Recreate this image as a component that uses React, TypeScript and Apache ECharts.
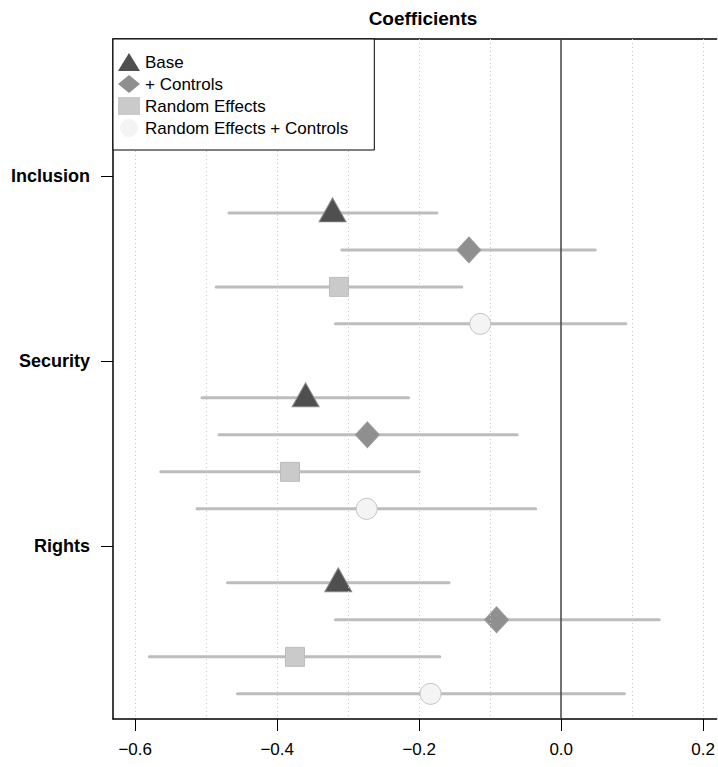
import React, { useEffect, useRef } from "react";
import * as echarts from "echarts";

const categories = ["Inclusion", "Security", "Rights"];
const models = ["Base", "+ Controls", "Random Effects", "Random Effects + Controls"];

const baseEst = [-0.322, -0.36, -0.314];
const baseLo = [-0.468, -0.506, -0.47];
const baseHi = [-0.175, -0.215, -0.158];

const ctrlEst = [-0.13, -0.273, -0.091];
const ctrlLo = [-0.309, -0.482, -0.318];
const ctrlHi = [0.048, -0.062, 0.138];

const reEst = [-0.313, -0.382, -0.375];
const reLo = [-0.486, -0.564, -0.58];
const reHi = [-0.14, -0.2, -0.171];

const recEst = [-0.114, -0.274, -0.184];
const recLo = [-0.318, -0.513, -0.456];
const recHi = [0.091, -0.036, 0.089];

const xTicks = [-0.6, -0.4, -0.2, 0, 0.2];
const gridValues = [-0.6, -0.5, -0.4, -0.3, -0.2, -0.1, 0, 0.1, 0.2];
const catPositions = [0, 5, 10];

const estimates = [baseEst, ctrlEst, reEst, recEst];
const lows = [baseLo, ctrlLo, reLo, recLo];
const highs = [baseHi, ctrlHi, reHi, recHi];

const symbols = ["triangle", "diamond", "rect", "circle"];
const symbolSizes: any[] = [[27, 24], [24, 26], [19, 19], [21, 21]];
const symbolOffsets: any[] = [[0, -3], [0, 0], [0, 0], [0, 0]];
const fills = ["#4f4f4f", "#8f8f8f", "#cacaca", "#f4f4f4"];
const borders = ["#8a8a8a", "#9c9c9c", "#bcbcbc", "#c4c4c4"];

export default function App() {
  const ref = useRef<HTMLDivElement>(null);
  useEffect(() => {
    if (!ref.current) return;
    const chart = echarts.init(ref.current, undefined, { renderer: "svg" });

    const ciData: number[][] = [];
    categories.forEach((_, c) => {
      models.forEach((_, m) => {
        ciData.push([catPositions[c] + m + 1, lows[m][c], highs[m][c]]);
      });
    });

    const scatterSeries = models.map((name, m) => ({
      name,
      type: "scatter",
      z: 4,
      symbol: symbols[m],
      symbolSize: symbolSizes[m],
      symbolOffset: symbolOffsets[m],
      itemStyle: { color: fills[m], borderColor: borders[m], borderWidth: 1, opacity: 1 },
      data: categories.map((_, c) => [estimates[m][c], catPositions[c] + m + 1]),
    }));

    const fmt = (v: number) => {
      const s = Math.abs(v).toFixed(1);
      return v < -1e-9 ? "\u2212" + s : s;
    };

    const xMin = -0.6313;
    const xMax = 0.219;

    chart.setOption({
      animation: false,
      backgroundColor: "#fff",
      textStyle: { fontFamily: "Liberation Sans, Arial, sans-serif" },
      title: {
        text: "Coefficients",
        left: 418,
        top: 4,
        textAlign: "center",
        textStyle: { fontSize: 19, fontWeight: "bold", color: "#000" },
      },
      legend: {
        orient: "vertical",
        left: 113,
        top: 39,
        padding: [13, 26, 12, 5],
        itemGap: 2,
        itemWidth: 22,
        itemHeight: 18,
        backgroundColor: "#fff",
        borderColor: "#000",
        borderWidth: 1,
        borderRadius: 0,
        z: 10,
        textStyle: { fontSize: 17, color: "#000", lineHeight: 20 },
        data: models.map((name, m) => ({
          name,
          icon: symbols[m],
          itemStyle: { color: fills[m], borderWidth: 0 },
        })),
      },
      grid: {
        left: 113,
        right: 0,
        top: 39,
        bottom: 767 - 719,
        show: false,
        containLabel: false,
      },
      xAxis: [
        {
          type: "value",
          position: "bottom",
          min: xMin,
          max: xMax,
          axisLine: { show: true, onZero: false, lineStyle: { color: "#000", width: 1.5 } },
          splitLine: { show: false },
          axisTick: {
            show: true,
            length: 12,
            customValues: xTicks,
            lineStyle: { color: "#000", width: 1 },
          },
          axisLabel: {
            customValues: xTicks,
            formatter: (v: number) => fmt(v),
            fontSize: 17,
            color: "#000",
            margin: 22,
          },
        },
        {
          type: "value",
          position: "top",
          min: xMin,
          max: xMax,
          axisLine: { show: true, onZero: false, lineStyle: { color: "#000", width: 1.5 } },
          splitLine: { show: false },
          axisTick: { show: false },
          axisLabel: { show: false },
        },
      ],
      yAxis: {
        type: "value",
        inverse: true,
        min: -3.7,
        max: 14.68,
        axisLine: { show: true, onZero: false, lineStyle: { color: "#000", width: 1.5 } },
        splitLine: { show: false },
        axisTick: {
          show: true,
          length: 12,
          customValues: catPositions,
          lineStyle: { color: "#000", width: 1 },
        },
        axisLabel: {
          customValues: catPositions,
          formatter: (v: number) => categories[catPositions.indexOf(v)] ?? "",
          fontSize: 18,
          fontWeight: "bold",
          color: "#000",
          margin: 23,
        },
      },
      series: [
        {
          name: "__grid",
          type: "scatter",
          z: 1,
          data: [],
          markLine: {
            silent: true,
            symbol: "none",
            label: { show: false },
            data: gridValues
              .filter((v) => v !== 0)
              .map((v) => ({
                xAxis: v,
                lineStyle: { color: "#c8c8c8", type: [1, 3], width: 1 },
              })),
          },
        },
        {
          name: "__ci",
          type: "custom",
          z: 2,
          data: ciData,
          encode: { x: [1, 2], y: 0 },
          renderItem: (params: any, api: any) => {
            const y = api.value(0);
            const p1 = api.coord([api.value(1), y]);
            const p2 = api.coord([api.value(2), y]);
            return {
              type: "line",
              shape: { x1: p1[0], y1: p1[1], x2: p2[0], y2: p2[1] },
              style: { stroke: "#bdbdbd", lineWidth: 3, lineCap: "round" },
            };
          },
        },
        {
          name: "__zero",
          type: "scatter",
          z: 3,
          data: [],
          markLine: {
            silent: true,
            symbol: "none",
            label: { show: false },
            data: [{ xAxis: 0, lineStyle: { color: "#444", type: "solid", width: 1.5 } }],
          },
        },
        ...scatterSeries,
      ],
    });
    return () => chart.dispose();
  }, []);
  return (
    <div
      ref={ref}
      style={{ position: "absolute", left: 0, top: 0, width: 718, height: 767 }}
    />
  );
}
